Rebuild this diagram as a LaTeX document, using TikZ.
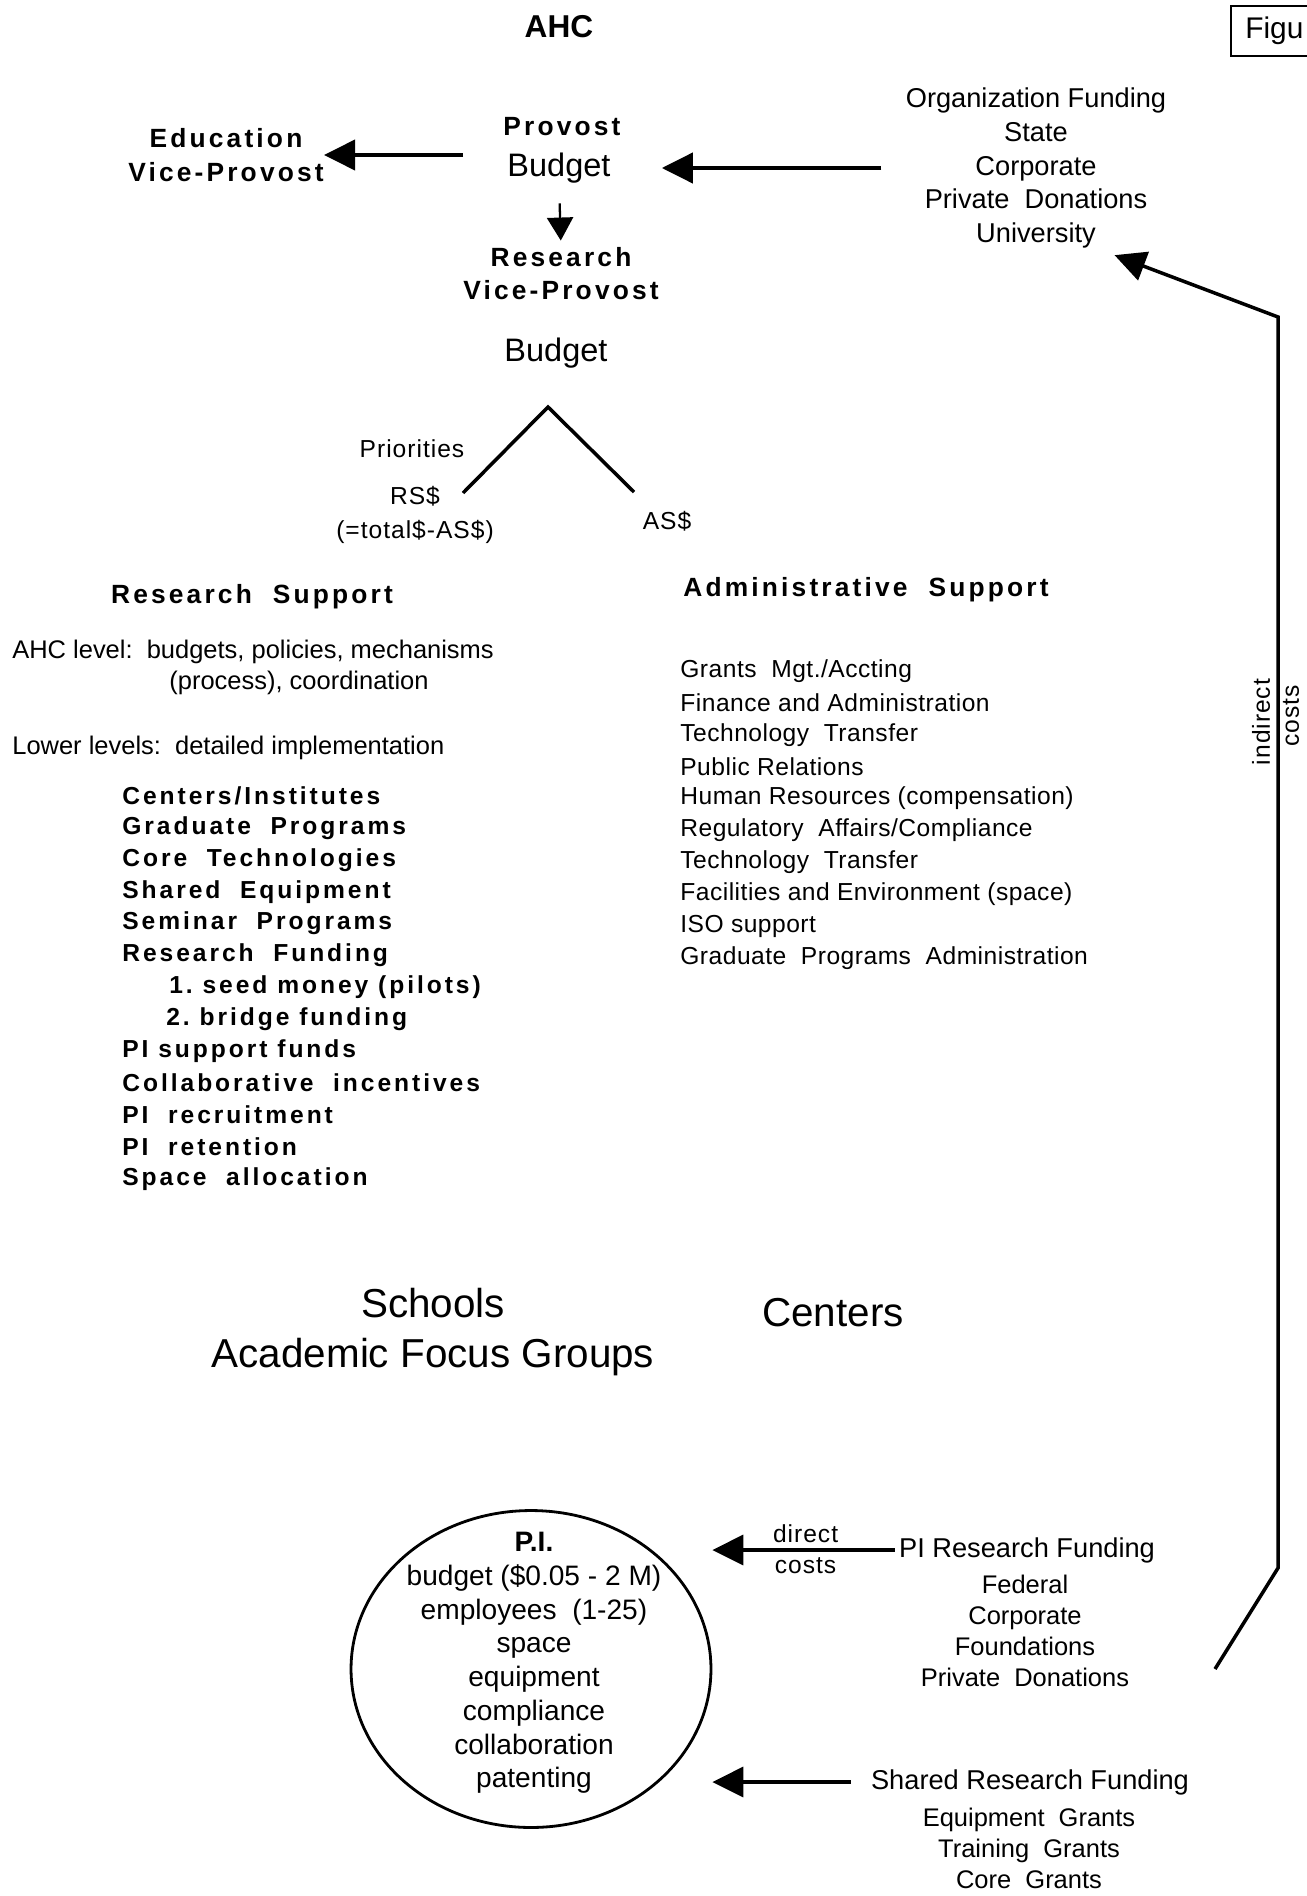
\documentclass[tikz,border=0pt]{standalone}
\usepackage{fontspec}
\setmainfont{Liberation Sans}
\newfontfamily\widesf[LetterSpace=12]{Liberation Sans}
\newfontfamily\semiwide[LetterSpace=4]{Liberation Sans}
\newfontfamily\listsf[LetterSpace=2]{Liberation Sans}
\usetikzlibrary{arrows.meta, shapes.geometric, calc}
\tikzset{
  title/.style={inner sep=0pt, font=\bfseries\fontsize{18}{22}\selectfont},
  hdr/.style={inner sep=0pt, font=\widesf\bfseries\fontsize{15}{19.5}\selectfont},
  big/.style={inner sep=0pt, font=\fontsize{18.5}{22}\selectfont},
  fund/.style={inner sep=0pt, font=\fontsize{15.5}{19.1}\selectfont},
  fundsm/.style={inner sep=0pt, font=\fontsize{14.5}{17.7}\selectfont},
  txt/.style={inner sep=0pt, font=\fontsize{14.5}{18}\selectfont},
  small/.style={inner sep=0pt, font=\semiwide\fontsize{14}{19}\selectfont},
  listbf/.style={inner sep=0pt, anchor=west, font=\widesf\bfseries\fontsize{14}{18}\selectfont},
  listrg/.style={inner sep=0pt, anchor=west, font=\listsf\fontsize{14}{18}\selectfont},
  huge/.style={inner sep=0pt, font=\fontsize{23}{28.4}\selectfont},
  pitext/.style={inner sep=0pt, align=center, font=\fontsize{16}{19.2}\selectfont},
  fatarrow/.style={-{Triangle[length=0.62cm, width=0.6cm]}, line width=2.4pt},
  thinarrow/.style={-{Triangle[length=0.46cm, width=0.52cm]}, line width=1.3pt},
}
\begin{document}
\begin{tikzpicture}[x=0.02cm, y=-0.02cm]
\fill[white] (0,0) rectangle (1307,1896);
\useasboundingbox (0,0) rectangle (1307,1896);

% Top level: AHC and provost
\node[title] (ahc) at (559,27) {AHC};
\draw[line width=1.3pt] (1330,6) -| (1231,56) -- (1330,56);
\node[inner sep=0pt, anchor=west, font=\fontsize{17}{20}\selectfont] (fig) at (1245,31) {Figu};

\node[hdr] (provost) at (562,127) {Provost};
\node[big] (budget) at (559,168) {Budget};
\node[hdr, align=center] (edu) at (226,155) {Education\\Vice-Provost};
\node[hdr, align=center, font=\widesf\bfseries\fontsize{15}{18.7}\selectfont] (resvp) at (561,274) {Research\\Vice-Provost};
\node[big] (rbudget) at (556,353) {Budget};
\node[fund, align=center] (orgfund) at (1036,168) {Organization Funding\\State\\Corporate\\Private\ \ Donations\\University};

\draw[fatarrow, shorten <=0.88cm] (edu.east -| budget.west) -- (edu.east);
\draw[fatarrow, shorten <=0.48cm, shorten >=1.02cm] (orgfund.west |- budget.east) -- (budget.east);
\draw[thinarrow, shorten <=0.4cm, shorten >=0.14cm] (budget.south) -- (resvp.north);

% Split of the research budget
\node[small] (prio) at (412,449) {Priorities};
\node[small, align=center] (rsd) at (415,515) {RS\$\\(=total\$-AS\$)};
\node[small] (asd) at (667,521) {AS\$};
\coordinate (apex) at (548,407);
\coordinate (rsend) at (463,493);
\coordinate (asend) at (634,492);
\draw[line width=2pt] (rsend) -- (apex) -- (asend);

% Indirect costs return
\coordinate (indlow) at (1215,1669);
\coordinate (indbend) at (1278,1568);
\coordinate (indtop) at (1278,317);
\draw[fatarrow, line width=2pt] (indlow) -- (indbend) -- (indtop) -- ($(orgfund.south east)+(-52,7)$);
\node[small, rotate=90] (indir) at (1261,722) {indirect};
\node[small, rotate=90] (indcost) at (1291,716) {costs};

% Support columns
\node[hdr] (ressup) at (252,597) {Research\ \ Support};
\node[hdr] (admsup) at (866,590) {Administrative\ \ Support};
\node[txt, anchor=west] (ahclvl) at (12,652) {AHC level:\ \ budgets, policies, mechanisms};
\node[txt] (ahcproc) at (299,683) {(process), coordination};
\node[txt, anchor=west] (lowlvl) at (12,748) {Lower levels:\ \ detailed implementation};

\foreach \entry/\dx [count=\i from 0] in {{Centers/Institutes}/0, {Graduate\ \ Programs}/0,
    {Core\ \ Technologies}/0, {Shared\ \ Equipment}/0, {Seminar\ \ Programs}/0,
    {Research\ \ Funding}/0, {1.\ seed money (pilots)}/47, {2.\ bridge funding}/44,
    {PI\ support\ funds}/0, {Collaborative\ \ incentives}/0, {PI\ \ recruitment}/0,
    {PI\ \ retention}/0, {Space\ \ allocation}/0}
  \node[listbf] (res\i) at (122+\dx, 796+31.9*\i) {\entry};

\foreach \entry [count=\i from 0] in {{Grants\ \ Mgt./Accting}, {Finance and Administration},
    {Technology\ \ Transfer}, {Public Relations}, {Human Resources (compensation)},
    {Regulatory\ \ Affairs/Compliance}, {Technology\ \ Transfer},
    {Facilities and Environment (space)}, {ISO support}, {Graduate\ \ Programs\ \ Administration}}
  \node[listrg] (adm\i) at (680, 671+31.9*\i) {\entry};

% Schools and centers
\node[huge, align=center] (schools) at (433,1332) {Schools\\Academic\ Focus\ Groups};
\node[huge] (centers) at (833,1313) {Centers};

% Principal investigator
\node[ellipse, draw, line width=1.6pt, minimum width=7.2cm, minimum height=6.34cm, inner sep=0pt] (pi) at (531,1669) {};
\node[pitext] (pitxt) at (534,1663) {\textbf{P.I.}\\budget (\$0.05\ -\ 2\ M)\\employees\ \ (1-25)\\space\\equipment\\compliance\\collaboration\\patenting};

\node[fund] (pititle) at (1027,1550) {PI Research Funding};
\node[fundsm, align=center] (pilist) at (1025,1631) {Federal\\Corporate\\Foundations\\Private\ \ Donations};
\draw[fatarrow, line width=2pt, shorten <=0.08cm] (pititle.west) -- (pititle.west -| pi.east)
  node[midway, above=0.12cm, small] (dirlbl) {direct}
  node[midway, below=0.12cm, small] (dircost) {costs};

\node[fund] (shtitle) at (1030,1782) {Shared Research Funding};
\node[fundsm, align=center] (shlist) at (1029,1848) {Equipment\ \ Grants\\Training\ \ Grants\\Core\ \ Grants};
\draw[fatarrow, line width=2pt, shorten <=0.4cm] (shtitle.west) -- (shtitle.west -| pi.east);
\end{tikzpicture}
\end{document}
